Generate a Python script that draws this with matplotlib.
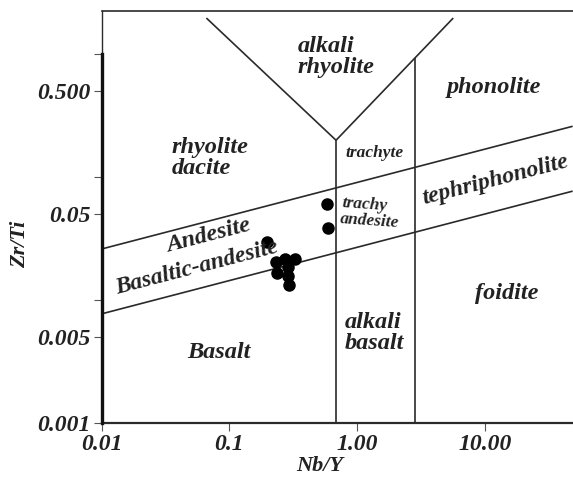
import matplotlib
matplotlib.use("Agg")
import matplotlib.pyplot as plt
from matplotlib.ticker import FixedLocator, NullLocator

# Sample data (Nb/Y, Zr/Ti)
nb_y = [0.195, 0.231, 0.272, 0.325, 0.286, 0.235, 0.286, 0.292, 0.574, 0.585]
zr_ti = [0.0298, 0.0202, 0.0214, 0.0214, 0.0184, 0.0165, 0.0156, 0.0132, 0.0600, 0.0383]

# Classification boundaries (Winchester & Floyd)
lower_line = ([0.01, 48.0], [0.0077, 0.077])
upper_line = ([0.01, 48.0], [0.026, 0.26])
v_left = ([0.066, 0.68], [1.98, 0.20])
v_right = ([0.68, 5.6], [0.20, 1.98])
vert_1 = ([0.68, 0.68], [0.001, 0.20])
vert_2 = ([2.83, 2.83], [0.001, 0.93])

y_ticks = [0.001, 0.005, 0.01, 0.05, 0.1, 0.5, 1.0]
y_ticklabels = ["0.001", "0.005", "", "0.05", "", "0.500", ""]
x_ticks = [0.01, 0.1, 1.0, 10.0]
x_ticklabels = ["0.01", "0.1", "1.00", "10.00"]

FONT = dict(family="Liberation Serif", weight="bold", style="italic", color="#222222")
LC = "#2a2a2a"

fig = plt.figure(figsize=(5.73, 4.8), dpi=100)
ax = fig.add_axes([101.5 / 573, 1 - 422.7 / 480, 1 - 101.5 / 573, (422.7 - 11) / 480])
ax.set_xscale("log")
ax.set_yscale("log")
ax.set_xlim(0.01, 48.3)
ax.set_ylim(0.001, 2.26)

for xs, ys in [lower_line, upper_line, v_left, v_right, vert_1, vert_2]:
    ax.plot(xs, ys, color=LC, lw=1.2, solid_capstyle="butt")

ax.scatter(nb_y, zr_ti, s=64, color="black", zorder=5)

# spines
ax.spines["right"].set_visible(False)
ax.spines["top"].set_linewidth(1.2)
ax.spines["top"].set_color(LC)
ax.spines["left"].set_linewidth(1.0)
ax.spines["left"].set_color(LC)
ax.spines["bottom"].set_linewidth(1.6)
ax.spines["bottom"].set_color(LC)
ax.plot([0.01, 0.01], [0.001, 1.0], color="#111111", lw=2.4, clip_on=False, zorder=6)

ax.xaxis.set_major_locator(FixedLocator(x_ticks))
ax.xaxis.set_minor_locator(NullLocator())
ax.yaxis.set_major_locator(FixedLocator(y_ticks))
ax.yaxis.set_minor_locator(NullLocator())
ax.set_xticklabels(x_ticklabels, fontsize=17, **FONT)
ax.set_yticklabels(y_ticklabels, fontsize=17, **FONT)
ax.tick_params(axis="both", direction="out", length=6, width=0.8, color="#555555", pad=2)


def label(px, py, text, size=17.5, ha="center", rot=0, ls=1.0):
    fig.text(px / 573, 1 - py / 480, text, fontsize=size, ha=ha, va="center",
             rotation=rot, rotation_mode="anchor", linespacing=ls, **FONT)


# axis titles
label(320, 466, "Nb/Y", size=16)
label(20, 244, "Zr/Ti", size=16, rot=90)

label(298, 57, "alkali\nrhyolite", ha="left")
label(494, 87, "phonolite")
label(172, 158, "rhyolite\ndacite", ha="left")
label(375, 153, "trachyte", size=12.5)
label(341, 211, "trachy\nandesite", size=12.5, ha="left", rot=-4)
label(423, 199, "tephriphonolite", size=17, ha="left", rot=14.5)
label(209, 236, "Andesite", size=17.5, rot=14.5)
label(197, 268, "Basaltic-andesite", size=17, rot=14.5)
label(219, 353, "Basalt")
label(345, 333, "alkali\nbasalt", ha="left")
label(507, 293, "foidite")

fig.savefig("out.png", dpi=100)
